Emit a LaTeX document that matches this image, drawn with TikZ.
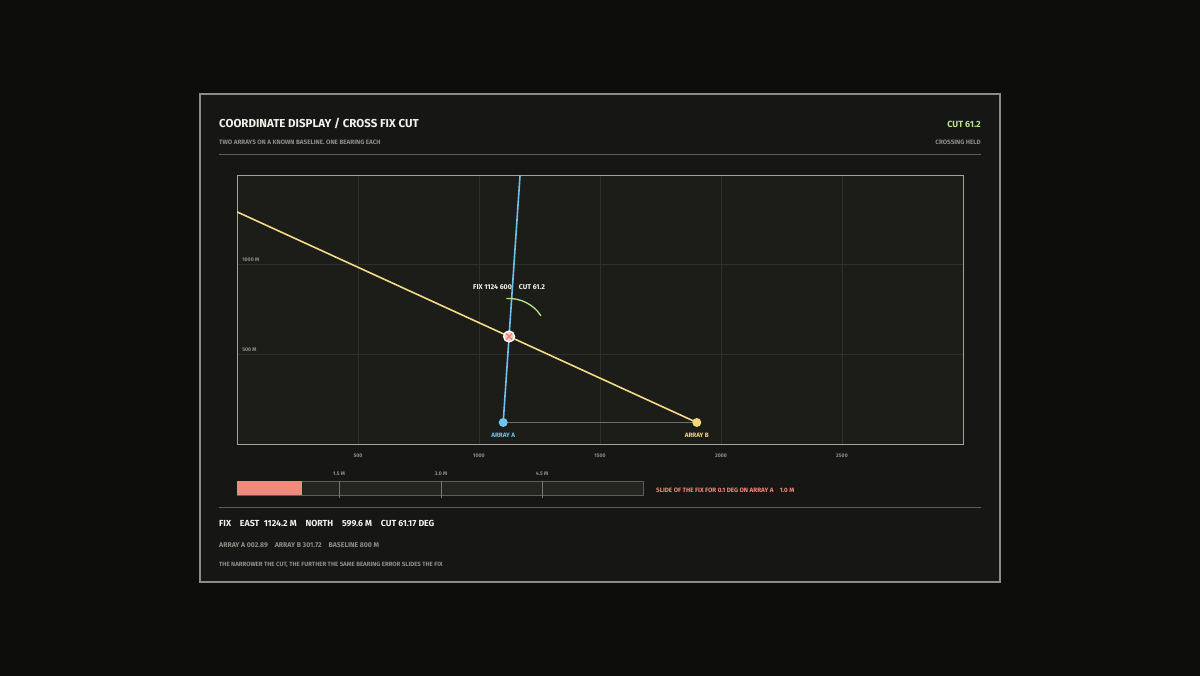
\documentclass[tikz,border=0pt]{standalone}
\usepackage{fontspec}
\setmainfont{Fira Sans}
\usepackage{xcolor}
\usetikzlibrary{calc}
\tikzset{>=latex}
\definecolor{bgcol}{HTML}{0D0D0C}
\definecolor{panelcol}{HTML}{161614}
\definecolor{plotcol}{HTML}{1C1D19}
\definecolor{edgecol}{HTML}{8C8C86}
\definecolor{rulecol}{HTML}{5E5E58}
\definecolor{gridcol}{HTML}{2F302B}
\definecolor{dimtxt}{HTML}{8E8E88}
\definecolor{whitetxt}{HTML}{F2F2EC}
\definecolor{greencol}{HTML}{B6E38C}
\definecolor{bluecol}{HTML}{6EC3EE}
\definecolor{yellowcol}{HTML}{F2D67A}
\definecolor{salmon}{HTML}{F08A7C}
\definecolor{barbg}{HTML}{242520}
\tikzstyle{lbl}=[inner sep=0, font=\bfseries\fontsize{6.3}{7}\selectfont, text=dimtxt]
\tikzstyle{axlbl}=[inner sep=0, font=\bfseries\fontsize{5.2}{6}\selectfont, text=dimtxt]
\tikzstyle{ray}=[line width=1.6pt, line cap=round]

\begin{document}
\begin{tikzpicture}[x=1pt,y=-1pt]
  \useasboundingbox[fill=bgcol] (0,0) rectangle (1200,676);
  \draw[fill=panelcol, draw=edgecol, line width=1.2pt] (200,94) rectangle (1000,582);

  % header
  \node[anchor=west, inner sep=0, text=whitetxt, font=\bfseries\fontsize{11.5}{13}\selectfont] (title) at (219,123) {COORDINATE DISPLAY / CROSS FIX CUT};
  \node[lbl, anchor=west] (sub) at (219,142) {TWO ARRAYS ON A KNOWN BASELINE. ONE BEARING EACH};
  \node[anchor=east, inner sep=0, text=greencol, font=\bfseries\fontsize{9}{10}\selectfont] (cut) at (981,124) {CUT 61.2};
  \node[lbl, anchor=east] (held) at (981,142) {CROSSING HELD};
  \draw[rulecol, line width=1pt] (219,155) -- (981,155);

  % plot, metres east / north
  \begin{scope}[shift={(237,444)}, x=0.242pt, y=0.1793pt]
    \fill[plotcol] (0,0) rectangle (3000,1500);
    \foreach \u in {500,1000,...,2500} {
      \draw[gridcol, line width=0.6pt] (\u,0) -- (\u,1500);
      \node[axlbl] (x\u) at (\u,-67) {\u};
    }
    \foreach \v in {500,1000} {
      \draw[gridcol, line width=0.6pt] (0,\v) -- (3000,\v);
      \node[axlbl, anchor=west] (y\v) at (21,\v+28) {\v\ M};
    }
    \draw[edgecol!80, line width=1pt] (0,0) rectangle (3000,1500);

    \coordinate (A) at (1100,120);
    \coordinate (B) at (1900,120);
    \coordinate (F) at (1124.2,599.6);

    \begin{scope}
      \clip (0,0) rectangle (3000,1500);
      \draw[ray, bluecol] (A) -- ($(A)!3.2!(F)$);
      \draw[ray, yellowcol!90!white] (B) -- ($(B)!3!(F)$);
    \end{scope}
    \draw[rulecol!90!white, line width=1.5pt] (A) -- (B);

    % cut angle
    \begin{scope}[shift={(F)}, x=1pt, y=1pt]
      \draw[greencol, line width=1.3pt] (94:38) arc[start angle=94, end angle=33, radius=38];
    \end{scope}

    \node[circle, fill=bluecol, inner sep=0, minimum size=9pt] (arrA) at (A) {};
    \node[circle, fill=yellowcol, inner sep=0, minimum size=9pt] (arrB) at (B) {};
    \node[lbl, text=bluecol, yshift=-13pt] (labA) at (A) {ARRAY A};
    \node[lbl, text=yellowcol, yshift=-13pt] (labB) at (B) {ARRAY B};

    \node[circle, draw=white, fill=salmon!45!white, line width=1.3pt, inner sep=0, minimum size=11pt] (fix) at (F) {};
    \draw[salmon!85!red, line width=1.1pt] ($(F)+(-3pt,-3pt)$) -- ($(F)+(3pt,3pt)$)
                                          ($(F)+(-3pt,3pt)$) -- ($(F)+(3pt,-3pt)$);
    \node[inner sep=0, text=whitetxt, font=\bfseries\fontsize{7}{8}\selectfont, yshift=49pt] (fixlbl) at (F) {FIX 1124 600\quad CUT 61.2};
  \end{scope}

  % slide bar
  \fill[barbg, draw=rulecol, line width=0.6pt] (237,481) rectangle (643,495);
  \fill[salmon] (237,481) rectangle (302,495);
  \foreach \t/\m in {339/1.5, 441/3.0, 542/4.5} {
    \draw[dimtxt!120!white, line width=0.8pt] (\t,481) -- (\t,498);
    \node[axlbl] (t\t) at (\t,474) {\m\ M};
  }
  \node[lbl, anchor=west, text=salmon] (slide) at (656,490) {SLIDE OF THE FIX FOR 0.1 DEG ON ARRAY A\quad 1.0 M};

  % readout
  \draw[rulecol, line width=1pt] (219,507) -- (981,507);
  \node[anchor=west, inner sep=0, text=whitetxt, font=\bfseries\fontsize{8.8}{10}\selectfont] (read) at (219,523) {FIX\quad EAST\enspace 1124.2 M\quad NORTH\quad 599.6 M\quad CUT 61.17 DEG};
  \node[lbl, anchor=west, font=\bfseries\fontsize{6.9}{8}\selectfont] (brg) at (219,545) {ARRAY A 002.89\quad ARRAY B 301.72\quad BASELINE 800 M};
  \node[lbl, anchor=west, font=\bfseries\fontsize{6.1}{7}\selectfont] (note) at (219,565) {THE NARROWER THE CUT, THE FURTHER THE SAME BEARING ERROR SLIDES THE FIX};
\end{tikzpicture}
\end{document}
